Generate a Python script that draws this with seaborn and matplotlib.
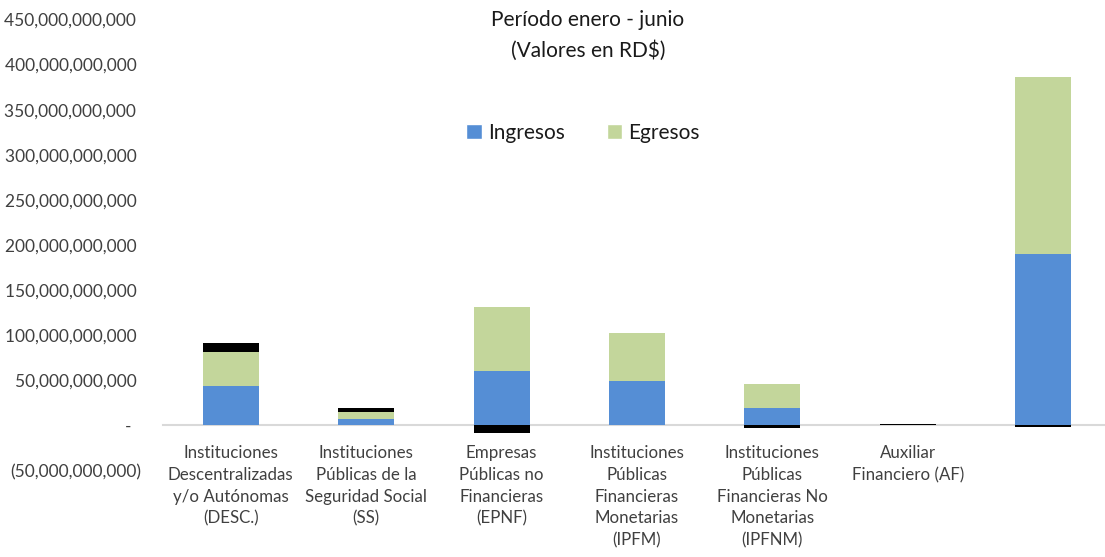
import matplotlib
matplotlib.use("Agg")
import matplotlib.pyplot as plt
from matplotlib.ticker import FuncFormatter, MultipleLocator
from matplotlib.patches import Patch
import seaborn as sns
import pandas as pd

# Categorías del sector público (la última columna corresponde al total, sin rótulo)
categorias = [
    "Instituciones\nDescentralizadas\ny/o Autónomas\n(DESC.)",
    "Instituciones\nPúblicas de la\nSeguridad Social\n(SS)",
    "Empresas\nPúblicas no\nFinancieras\n(EPNF)",
    "Instituciones\nPúblicas\nFinancieras\nMonetarias\n(IPFM)",
    "Instituciones\nPúblicas\nFinancieras No\nMonetarias\n(IPFNM)",
    "Auxiliar\nFinanciero (AF)",
    "",
]

# Valores en miles de millones de RD$
ingresos = [43.8, 7.2, 60.4, 49.0, 19.7, 0.3, 190.1]
egresos = [38.0, 8.1, 70.6, 53.2, 26.3, 0.2, 195.9]
balance = [9.3, 4.4, -8.0, 0.0, -3.0, 1.5, -2.0]

ESCALA = 1e9

df = pd.DataFrame({
    "categoria": categorias,
    "Ingresos": [v * ESCALA for v in ingresos],
    "Egresos": [v * ESCALA for v in egresos],
    "Balance": [v * ESCALA for v in balance],
})
df["base_egresos"] = df["Ingresos"]
df["base_balance"] = [
    (i + e) if b >= 0 else 0.0
    for i, e, b in zip(df["Ingresos"], df["Egresos"], df["Balance"])
]

AZUL = "#558ED5"
VERDE = "#C3D69B"
NEGRO = "#000000"
ANCHO = 0.413

sns.set_style("white")
plt.rcParams["font.family"] = ["Lato", "DejaVu Sans"]

fig = plt.figure(figsize=(11.05, 5.57), dpi=100)
ax = fig.add_axes([163 / 1105, 86.4 / 557, 948 / 1105, 451.1 / 557])

estilo = dict(width=ANCHO, errorbar=None, saturation=1, ax=ax, zorder=3, linewidth=0)
sns.barplot(data=df, x="categoria", y="Ingresos", color=AZUL, **estilo)
sns.barplot(data=df, x="categoria", y="Egresos", bottom=df["base_egresos"],
            color=VERDE, **estilo)
sns.barplot(data=df, x="categoria", y="Balance", bottom=df["base_balance"],
            color=NEGRO, **estilo)

ax.set_xlim(-0.5, len(categorias) - 0.5)
ax.set_ylim(-50e9, 450e9)
ax.yaxis.set_major_locator(MultipleLocator(50e9))


def formato(v, pos):
    if abs(v) < 1:
        return "-  "
    if v < 0:
        return f"({abs(v):,.0f})"
    return f"{v:,.0f} "


ax.yaxis.set_major_formatter(FuncFormatter(formato))
ax.set_xlabel("")
ax.set_ylabel("")

for lado in ("left", "right", "top"):
    ax.spines[lado].set_visible(False)
ax.spines["bottom"].set_position(("data", 0))
ax.spines["bottom"].set_color("#D9D9D9")
ax.spines["bottom"].set_linewidth(1.5)
ax.spines["bottom"].set_zorder(1)

ax.tick_params(axis="y", length=0, pad=16, labelsize=12.5, labelcolor="#404040")
ax.tick_params(axis="x", length=0, pad=14, labelsize=12.2, labelcolor="#404040")
for t in ax.get_xticklabels():
    t.set_linespacing(1.45)
    t.set_horizontalalignment("center")

fig.text(588 / 1105, 1 - 20 / 557, "Período enero - junio", ha="center",
         va="center", fontsize=15, color="#1A1A1A")
fig.text(588 / 1105, 1 - 51 / 557, "(Valores en RD$)", ha="center",
         va="center", fontsize=15, color="#1A1A1A")

leyenda = [Patch(facecolor=AZUL, label="Ingresos"),
           Patch(facecolor=VERDE, label="Egresos")]
fig.legend(handles=leyenda, loc="center", bbox_to_anchor=(583 / 1105, 1 - 133 / 557),
           ncol=2, frameon=False, fontsize=15, handlelength=0.75, handleheight=0.75,
           handletextpad=0.3, columnspacing=2.0, labelcolor="#1A1A1A")

fig.savefig("out.png", dpi=100)
